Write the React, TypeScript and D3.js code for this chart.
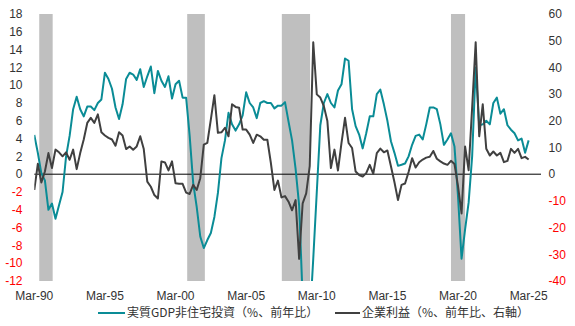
import React from "react";
import * as d3 from "d3";

// Quarterly data, Mar-90 (index 0) .. Mar-25 (index 140)
const tickLabels = ["Mar-90", "Mar-95", "Mar-00", "Mar-05", "Mar-10", "Mar-15", "Mar-20", "Mar-25"];
const tickIndex = [0, 20, 40, 60, 80, 100, 120, 140];

// 実質GDP非住宅投資（%、前年比） left axis
const investment = [
  4.4, 2.4, 0.1, -0.7, -4.0, -3.3, -5.0, -3.5, -2.0, 2.0,
  4.3, 7.3, 8.7, 7.3, 6.5, 7.6, 7.6, 7.2, 8.0, 8.4,
  11.4, 10.7, 9.6, 7.5, 6.2, 7.85, 10.7, 11.4, 11.2, 10.6,
  11.8, 9.8, 11.0, 12.1, 9.1, 11.6, 10.5, 9.8, 11.0, 8.5,
  10.1, 10.5, 8.6, 8.6, 4.3, -1.0, -3.7, -7.0, -8.3, -7.4,
  -6.6, -4.8, -2.1, 1.8, 3.8, 6.9, 5.6, 4.9, 5.6, 6.6,
  9.2, 8.0, 7.5, 6.3, 8.0, 8.2, 8.0, 8.0, 7.4, 7.7,
  7.7, 8.1, 5.9, 3.8, 0.6, -3.5, -14, -17, -16.5, -9.5,
  -2, 5.5, 8.0, 9.0, 8.0, 7.5, 9.4, 10.1, 13.0, 12.75,
  7.3, 5.4, 4.45, 2.9, 4.6, 6.5, 6.5, 9.0, 9.5, 7.85,
  6.0, 3.7, 2.4, 0.94, 1.06, 1.2, 2.0, 3.3, 4.3, 4.45,
  3.9, 5.6, 7.5, 7.5, 7.3, 5.6, 3.3, 3.9, 4.6, 3.1,
  -2.5, -9.5, -6.2, -3.2, 2.0, 12.0, 5.5, 5.6, 6.0, 5.6,
  8.0, 8.6, 6.8, 7.3, 5.5, 5.0, 4.6, 3.8, 4.0, 2.4,
  3.8,
];

// 企業利益（%、前年比、右軸） right axis
const profits = [
  -5.9, 3.9, -3.1, 1.0, 7.9, 2.3, 9.2, 8.2, 6.7, 8.2,
  5.4, 9.2, 1.9, 7.9, 13.0, 19.2, 21.1, 19.2, 22.4, 15.7,
  14.5, 13.6, 13.0, 10.7, 15.7, 14.5, 9.4, 10.4, 9.2, 10.4,
  14.2, 9.4, -2.8, -4.7, -7.8, -9.1, 4.8, 4.4, 1.4, 4.8,
  -3.4, -3.6, -3.6, -6.9, -7.4, -4.0, -5.9, -1.5, 11.1, 11.7,
  20.5, 29.6, 15.5, 15.7, 17.4, 14.2, 26.2, 25.2, 24.9, 16.7,
  16.7, 14.8, 11.7, 14.8, 14.2, 12.9, 12.9, 4.2, -5.9, -2.4,
  -8.7, -8.2, -10.3, -13.5, -9.7, -31.7, -10.9, -7.2, 3.0, 49.4,
  29.9, 28.7, 25.5, 19.9, 2.3, 9.2, 1.4, 11.7, 21.1, 11.7,
  9.8, 1.0, -0.3, -0.9, 0.4, 3.5, 0.1, 7.9, 9.6, 8.2,
  8.9, 3.0, -3.0, -9.7, -4.0, -3.5, 0.8, 6.0, 2.5, 4.5,
  5.5, 6.2, 6.5, 8.7, 5.8, 4.8, 4.0, 3.5, 5.0, 3.8,
  -4.5, -14.7, 10.4, 1.5, 25, 49.4, 14.2, 26.2, 9.5, 7.0,
  8.5, 7.0, 8.0, 4.5, 5.0, 9.5, 8.0, 9.5, 6.0, 6.5,
  5.5,
];

// Recession shading, in quarter-index units
const recessionStart = [1.4, 43.3, 70.1, 118.0];
const recessionEnd = [5.2, 48.3, 78.1, 122.0];

const leftTicks = [18, 16, 14, 12, 10, 8, 6, 4, 2, 0, -2, -4, -6, -8, -10, -12];
const rightTicks = [60, 50, 40, 30, 20, 10, 0, -10, -20, -30, -40];

const legendLabels = ["実質GDP非住宅投資（%、前年比）", "企業利益（%、前年比、右軸）"];

const TEAL = "#0A8C96";
const DARK = "#404040";
const W = 575;
const H = 326;

export default function App() {
  const x = d3.scaleLinear().domain([0, 143.5]).range([34.3, 541]);
  const yL = d3.scaleLinear().domain([-12, 18]).range([281, 14]);
  const yR = d3.scaleLinear().domain([-40, 60]).range([281, 14]);

  const lineL = d3
    .line<number>()
    .x((_, i) => x(i))
    .y((d) => yL(d));
  const lineR = d3
    .line<number>()
    .x((_, i) => x(i))
    .y((d) => yR(d));

  const [x0, x1] = x.range();
  const [yb, yt] = yL.range();
  const numFont = "'Liberation Sans', Arial, sans-serif";
  const cjkFont = "'Noto Sans CJK JP', 'Liberation Sans', sans-serif";

  return (
    <svg
      width={W}
      height={H}
      viewBox={`0 0 ${W} ${H}`}
      style={{ position: "absolute", left: 0, top: 0, background: "#fff" }}
    >
      <defs>
        <clipPath id="plotClip">
          <rect x={x0} y={yt} width={x1 - x0} height={yb - yt} />
        </clipPath>
      </defs>
      {recessionStart.map((s, i) => (
        <rect
          key={"r" + i}
          x={x(s)}
          y={yt}
          width={x(recessionEnd[i]) - x(s)}
          height={yb - yt}
          fill="#BFBFBF"
        />
      ))}
      <line x1={x0} x2={x1} y1={yL(0)} y2={yL(0)} stroke="#000" strokeWidth={1} />
      <g clipPath="url(#plotClip)">
        <path d={lineL(investment) || ""} fill="none" stroke={TEAL} strokeWidth={2} strokeLinejoin="round" />
        <path d={lineR(profits) || ""} fill="none" stroke={DARK} strokeWidth={2} strokeLinejoin="round" />
      </g>
      {leftTicks.map((v) => (
        <text
          key={"l" + v}
          x={22.5}
          y={yL(v)}
          dy="0.35em"
          textAnchor="end"
          fontFamily={numFont}
          fontSize={12}
          fill={v < 0 ? "#FF0000" : "#333"}
        >
          {v}
        </text>
      ))}
      {rightTicks.map((v) => (
        <text
          key={"rt" + v}
          x={548.5}
          y={yR(v)}
          dy="0.35em"
          textAnchor="start"
          fontFamily={numFont}
          fontSize={12}
          fill={v < 0 ? "#FF0000" : "#333"}
        >
          {v}
        </text>
      ))}
      {tickLabels.map((t, i) => (
        <text
          key={"x" + t}
          x={x(tickIndex[i])}
          y={300}
          textAnchor="middle"
          fontFamily={numFont}
          fontSize={12}
          fill="#333"
        >
          {t}
        </text>
      ))}
      <g>
        <line x1={98} x2={125} y1={313} y2={313} stroke={TEAL} strokeWidth={2} />
        <text x={127} y={313} dy="0.35em" fontFamily={cjkFont} fontSize={12} fill="#333">
          {legendLabels[0]}
        </text>
        <line x1={335} x2={360} y1={313} y2={313} stroke={DARK} strokeWidth={2} />
        <text x={362} y={313} dy="0.35em" fontFamily={cjkFont} fontSize={12} fill="#333">
          {legendLabels[1]}
        </text>
      </g>
    </svg>
  );
}
